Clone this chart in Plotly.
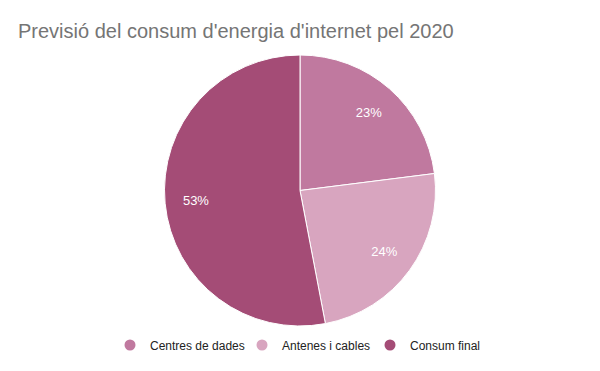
import plotly.graph_objects as go

categories = ["Centres de dades", "Antenes i cables", "Consum final"]
values = [23, 24, 53]
colors = ["#c0799f", "#d8a5bf", "#a44c76"]
title_text = "Previsió del consum d'energia d'internet pel 2020"

W, H = 600, 371
dom = dict(x=[164/W, 436/W], y=[1-326/H, 1-55/H])
font_fam = "Liberation Sans, Arial"

fig = go.Figure()
# filled pie
fig.add_trace(go.Pie(
    labels=categories, values=values,
    marker=dict(colors=colors, line=dict(color="white", width=1)),
    sort=False, direction="clockwise", rotation=0,
    textinfo="none", showlegend=False,
    hoverinfo="label+percent", domain=dom,
))
# transparent ring carrying the percentage labels (places them further out)
fig.add_trace(go.Pie(
    labels=categories, values=values, hole=0.54,
    marker=dict(colors=["rgba(0,0,0,0)"] * 3, line=dict(width=0)),
    sort=False, direction="clockwise", rotation=0,
    texttemplate="%{percent:.0%}", textposition="inside",
    insidetextorientation="horizontal",
    textfont=dict(color="white", size=13, family=font_fam),
    showlegend=False, hoverinfo="skip", domain=dom,
))

legend_x = [110, 242, 370]
legend_names = ["legend", "legend2", "legend3"]
for name, col, lg in zip(categories, colors, legend_names):
    fig.add_trace(go.Scatter(
        x=[None], y=[None], mode="markers", name=name, legend=lg,
        marker=dict(symbol="circle", size=11, color=col),
        showlegend=True,
    ))

lg_common = dict(orientation="h", xanchor="left", y=1-345/H, yanchor="middle",
                 font=dict(family=font_fam, size=12, color="#222222"),
                 bgcolor="rgba(0,0,0,0)")
fig.update_layout(
    width=W, height=H,
    margin=dict(l=0, r=0, t=0, b=0),
    paper_bgcolor="white", plot_bgcolor="white",
    title=dict(text=title_text, x=18/W, xanchor="left", y=1-31/H, yanchor="middle",
               font=dict(family=font_fam, size=20, color="#757575")),
    legend=dict(x=legend_x[0]/W, **lg_common),
    legend2=dict(x=legend_x[1]/W, **lg_common),
    legend3=dict(x=legend_x[2]/W, **lg_common),
    xaxis=dict(visible=False), yaxis=dict(visible=False),
)
fig.write_html("out.html", config={"displayModeBar": False},
               post_script="document.body.style.margin='0';")
